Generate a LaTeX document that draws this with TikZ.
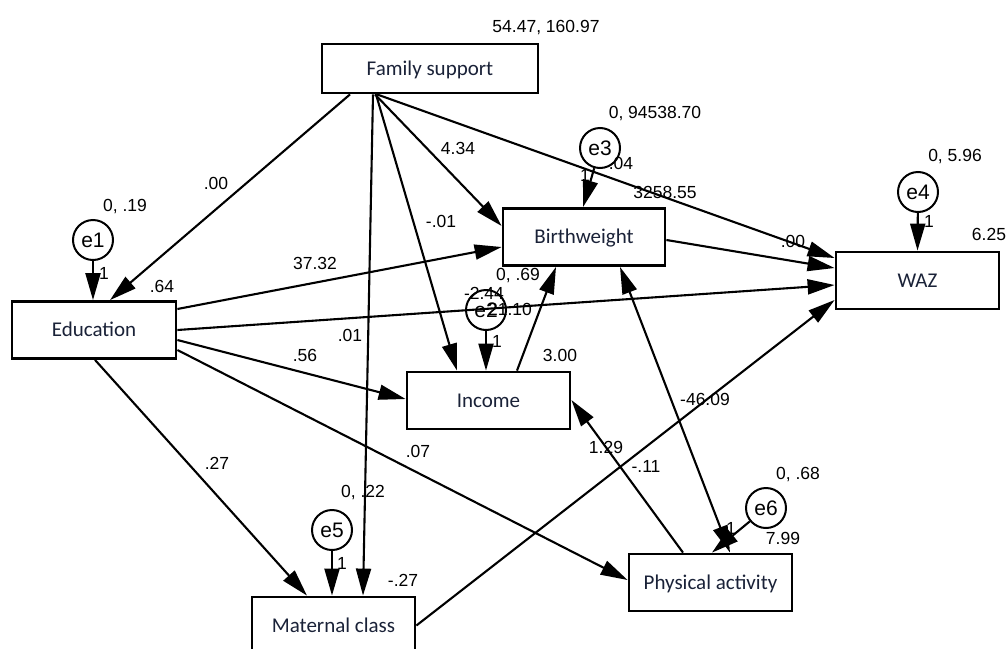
\documentclass[tikz,border=0pt]{standalone}
\usepackage{fontspec}
\setmainfont{Liberation Sans}
\newfontfamily\boxfont{Carlito}
\usetikzlibrary{arrows.meta,calc}
\definecolor{boxtext}{HTML}{1A2238}
\begin{document}
\begin{tikzpicture}[x=1pt,y=-1pt,
  box/.style={draw, line width=2.8pt, inner sep=0pt, font=\boxfont\fontsize{21}{25}\selectfont, text=boxtext, text height=13.5pt, text depth=0pt, minimum height=57pt, minimum width=163pt},
  err/.style={circle, draw, line width=2pt, minimum size=40pt, inner sep=0pt, font=\fontsize{21}{25}\selectfont, text height=15pt, text depth=0pt},
  num/.style={inner sep=0pt, font=\fontsize{17.5}{20}\selectfont, text height=12.5pt, text depth=0pt},
  arr/.style={line width=2.1pt, -{Triangle[length=27pt,width=15pt]}},
  darr/.style={line width=2.1pt, {Triangle[length=27pt,width=15pt]}-{Triangle[length=27pt,width=15pt]}},
]
\useasboundingbox (0,0) rectangle (1006,648);
\clip (0,0) rectangle (1006,648);
\fill[white] (0,0) rectangle (1006,648);

% boxes
\node[box, minimum width=216pt, minimum height=49pt] (fs) at (430,68.5) {Family support};
\node[box, minimum width=162pt] (bw) at (584,237) {Birthweight};
\node[box] (inc) at (488.5,400.5) {Income};
\node[box] (pa) at (710.5,582.5) {Physical activity};
\node[box] (mat) at (333.5,625.5) {Maternal class};
\node[box, minimum width=164pt] (edu) at (94,330) {Education};
\node[box] (waz) at (917.5,280.5) {WAZ};

% error terms
\node[err] (e1) at (93,240) {e1};
\node[err] (e2) at (486,310) {e2};
\node[err] (e3) at (600,148) {e3};
\node[err] (e4) at (918,192) {e4};
\node[err] (e5) at (332,530) {e5};
\node[err] (e6) at (766,508) {e6};

% paths from family support
\draw[arr] ($(fs.south)+(-80,0)$) -- ($(edu.north)+(16,0)$);
\draw[arr] ($(fs.south)+(-55,0)$) -- ($(bw.west)+(0,-11)$);
\draw[arr] ($(fs.south)+(-53,0)$) -- ($(waz.west)+(0,-22.5)$);
\draw[arr] ($(fs.south)+(-54,0)$) -- ($(inc.north)+(-31.5,0)$);
\draw[arr] ($(fs.south)+(-57,0)$) -- ($(mat.north)+(29.5,0)$);

% paths from education
\draw[arr] ($(edu.east)+(0,-21)$) -- ($(bw.west)+(0,10)$);
\draw[arr] (edu.east) -- ($(waz.west)+(0,4.5)$);
\draw[arr] ($(edu.east)+(0,10)$) -- ($(inc.west)+(0,-1.5)$);
\draw[arr] ($(edu.east)+(0,20)$) -- ($(pa.west)+(0,-2.5)$);
\draw[arr] ($(edu.south)+(1,0)$) -- ($(mat.north)+(-26.5,0)$);

% other paths
\draw[arr] ($(inc.north)+(28.5,0)$) -- ($(bw.south)+(-28,0)$);
\draw[arr] ($(bw.east)+(0,3)$) -- ($(waz.west)+(0,-12.5)$);
\draw[darr] ($(bw.south)+(36,0)$) -- ($(pa.north)+(19.5,0)$);
\draw[arr] ($(pa.north)+(-27.5,0)$) -- ($(inc.east)+(0,-0.5)$);
\draw[arr] (mat.east) -- ($(waz.west)+(0,19.5)$);

% error arrows
\draw[arr] (e1) -- ($(edu.north)+(-1,0)$);
\draw[arr] (e2) -- ($(inc.north)+(-2.5,0)$);
\draw[arr] (e3) -- ($(bw.north)+(-1,0)$);
\draw[arr] (e4) -- (waz.north);
\draw[arr] (e5) -- ($(mat.north)+(-1.5,0)$);
\draw[arr] (e6) -- ($(pa.north)+(1.5,0)$);

% numbers
\node[num] (n1) at (546,26) {54.47, 160.97};
\node[num] (n2) at (655,112) {0, 94538.70};
\node[num] (n3) at (621,163) {.04};
\node[num] (n4) at (585,175) {1};
\node[num] (n5) at (665,192) {3258.55};
\node[num] (n6) at (793,241) {.00};
\node[num] (n7) at (955,155) {0, 5.96};
\node[num] (n8) at (929,221) {1};
\node[num] (n9) at (989,234) {6.25};
\node[num] (n10) at (125,205) {0, .19};
\node[num] (n11) at (104,273) {1};
\node[num] (n12) at (162,286) {.64};
\node[num] (n13) at (216,183) {.00};
\node[num] (n14) at (458,148) {4.34};
\node[num] (n15) at (441,221) {-.01};
\node[num] (n16) at (315,263) {37.32};
\node[num] (n17) at (350,335) {.01};
\node[num] (n18) at (305,355) {.56};
\node[num] (n19) at (418,451) {.07};
\node[num] (n20) at (518,274) {0, .69};
\node[num] (n21) at (484,293) {-2.44};
\node[num] (n22) at (510,309) {21.10};
\node[num] (n23) at (497,341) {1};
\node[num] (n24) at (560,355) {3.00};
\node[num] (n25) at (705,399) {-46.09};
\node[num] (n26) at (606,447) {1.29};
\node[num] (n27) at (646,466) {-.11};
\node[num] (n28) at (798,473) {0, .68};
\node[num] (n29) at (731,528) {1};
\node[num] (n30) at (783,538) {7.99};
\node[num] (n31) at (363,491) {0, .22};
\node[num] (n32) at (342,563) {1};
\node[num] (n33) at (403,580) {-.27};
\node[num] (n34) at (217,463) {.27};
\end{tikzpicture}
\end{document}
